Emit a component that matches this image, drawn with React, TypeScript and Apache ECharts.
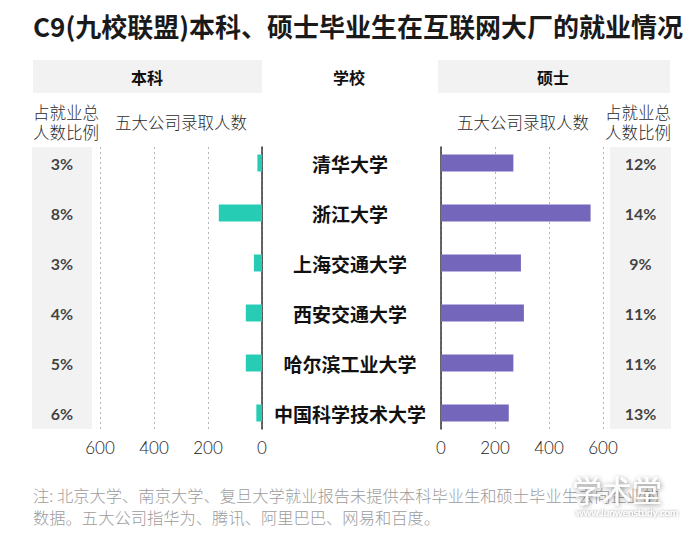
import React, { useEffect, useRef } from "react";
import * as echarts from "echarts";

const schools = ["清华大学", "浙江大学", "上海交通大学", "西安交通大学", "哈尔滨工业大学", "中国科学技术大学"];
const undergradHires = [17, 160, 30, 60, 60, 21];
const masterHires = [268, 554, 296, 307, 268, 251];
const undergradShare = ["3%", "8%", "3%", "4%", "5%", "6%"];
const masterShare = ["12%", "14%", "9%", "11%", "11%", "13%"];
const axisMin = 0;
const axisMax = 600;
const axisStep = 200;

const titleText = "C9(九校联盟)本科、硕士毕业生在互联网大厂的就业情况";
const noteLines = [
  "注: 北京大学、南京大学、复旦大学就业报告未提供本科毕业生和硕士毕业生去向企业的",
  "数据。五大公司指华为、腾讯、阿里巴巴、网易和百度。",
];

const CJK = "'Noto Sans CJK SC', 'Noto Sans', sans-serif";
const NUM = "Lato, 'Noto Sans', sans-serif";

export default function App() {
  const ref = useRef<HTMLDivElement>(null);

  useEffect(() => {
    if (!ref.current) return;
    const chart = echarts.init(ref.current, undefined, { renderer: "svg" });

    const barTop = 138;
    const barHeight = 300;
    const axTop = 147;
    const axHeight = 282;
    const rowMin = -0.32;
    const rowMax = 5.32;

    const valueAxisHidden = (inverse: boolean) => ({
      type: "value",
      min: axisMin,
      max: axisMax,
      interval: axisStep,
      inverse,
      show: false,
    });

    const valueAxisShown = (gridIndex: number, inverse: boolean) => ({
      type: "value",
      gridIndex,
      min: axisMin,
      max: axisMax,
      interval: axisStep,
      inverse,
      position: "bottom",
      axisLine: { show: false },
      axisTick: { show: false },
      axisLabel: { margin: 10, fontSize: 17, color: "#222", fontFamily: NUM, fontWeight: 300 },
      splitLine: { show: true, lineStyle: { type: [2, 3], color: "#b5b5b5", width: 1 } },
    });

    const pctSeries = (idx: number, labels: string[]) => ({
      type: "scatter",
      xAxisIndex: idx,
      yAxisIndex: idx,
      symbol: "circle",
      symbolSize: 1,
      itemStyle: { color: "rgba(0,0,0,0)" },
      data: labels.map((_, i) => [0.5, i]),
      label: {
        show: true,
        position: "inside",
        formatter: (p: any) => labels[p.dataIndex],
        fontSize: 16,
        fontWeight: "bold",
        color: "#111",
        fontFamily: NUM,
      },
      silent: true,
    });

    const sub = (text: string, x: number, y: number) => ({
      type: "text",
      x,
      y,
      style: {
        text,
        fontSize: 16.5,
        fill: "#2a2a2a",
        verticalAlign: "middle",
        fontFamily: CJK,
        fontWeight: 300,
      },
    });

    const head = (text: string, x: number) => ({
      type: "text",
      x,
      y: 77,
      style: { text, fontSize: 16, fontWeight: "bold", fill: "#111", align: "center", verticalAlign: "middle", fontFamily: CJK },
    });

    const option: any = {
      animation: false,
      backgroundColor: "#ffffff",
      grid: [
        { left: 100, width: 162, top: barTop, height: barHeight },
        { left: 100, width: 162, top: axTop, height: axHeight },
        { left: 441, width: 162, top: barTop, height: barHeight },
        { left: 441, width: 162, top: axTop, height: axHeight },
        { left: 32, width: 60, top: axTop, height: axHeight, show: true, backgroundColor: "#f2f2f2", borderWidth: 0 },
        { left: 610, width: 61, top: axTop, height: axHeight, show: true, backgroundColor: "#f2f2f2", borderWidth: 0 },
      ],
      xAxis: [
        { ...valueAxisHidden(true), gridIndex: 0 },
        valueAxisShown(1, true),
        { ...valueAxisHidden(false), gridIndex: 2 },
        valueAxisShown(3, false),
        { type: "value", gridIndex: 4, min: 0, max: 1, show: false },
        { type: "value", gridIndex: 5, min: 0, max: 1, show: false },
      ],
      yAxis: [
        {
          type: "category",
          gridIndex: 0,
          data: schools,
          inverse: true,
          position: "right",
          axisLine: { show: false },
          axisTick: { show: false },
          splitLine: { show: false },
          axisLabel: {
            margin: 88,
            align: "center",
            fontSize: 19,
            fontWeight: "bold",
            color: "#111",
            fontFamily: CJK,
          },
        },
        {
          type: "value",
          gridIndex: 1,
          min: 0,
          max: 1,
          position: "right",
          axisLine: { show: true, onZero: false, lineStyle: { color: "#333", width: 1.5 } },
          axisTick: { show: false },
          axisLabel: { show: false },
          splitLine: { show: false },
        },
        { type: "category", gridIndex: 2, data: schools, inverse: true, show: false },
        {
          type: "value",
          gridIndex: 3,
          min: 0,
          max: 1,
          position: "left",
          axisLine: { show: true, onZero: false, lineStyle: { color: "#333", width: 1.5 } },
          axisTick: { show: false },
          axisLabel: { show: false },
          splitLine: { show: false },
        },
        { type: "value", gridIndex: 4, min: rowMin, max: rowMax, inverse: true, show: false },
        { type: "value", gridIndex: 5, min: rowMin, max: rowMax, inverse: true, show: false },
      ],
      series: [
        {
          type: "bar",
          xAxisIndex: 0,
          yAxisIndex: 0,
          data: undergradHires,
          barWidth: 17,
          itemStyle: { color: "#26ccb3" },
          silent: true,
        },
        {
          type: "bar",
          xAxisIndex: 2,
          yAxisIndex: 2,
          data: masterHires,
          barWidth: 17,
          itemStyle: { color: "#7466bb" },
          silent: true,
        },
        pctSeries(4, undergradShare),
        pctSeries(5, masterShare),
      ],
      graphic: [
        {
          type: "text",
          x: 33,
          y: 25,
          style: { text: titleText, fontSize: 26, fontWeight: "bold", fill: "#1a1a1a", fontFamily: CJK, verticalAlign: "middle" },
        },
        { type: "rect", shape: { x: 33, y: 60, width: 229, height: 33 }, style: { fill: "#f2f2f2" } },
        { type: "rect", shape: { x: 438, y: 60, width: 232, height: 33 }, style: { fill: "#f2f2f2" } },
        head("本科", 147),
        head("学校", 349),
        head("硕士", 553),
        sub("占就业总", 33, 112),
        sub("人数比例", 33, 132),
        sub("五大公司录取人数", 115, 122),
        sub("五大公司录取人数", 457, 122),
        sub("占就业总", 605, 112),
        sub("人数比例", 605, 132),
        {
          type: "text",
          x: 33,
          y: 495,
          style: { text: noteLines[0], fontSize: 16.3, fill: "#9c9c9c", verticalAlign: "middle", fontFamily: CJK, fontWeight: 300 },
        },
        {
          type: "text",
          x: 33,
          y: 517,
          style: { text: noteLines[1], fontSize: 16.3, fill: "#9c9c9c", verticalAlign: "middle", fontFamily: CJK, fontWeight: 300 },
        },
        {
          type: "text",
          x: 617,
          y: 489,
          style: {
            text: "学术堂",
            fontSize: 30,
            fill: "rgba(255,255,255,0.95)",
            align: "center",
            verticalAlign: "middle",
            fontFamily: CJK,
            textShadowColor: "rgba(0,0,0,0.55)",
            textShadowBlur: 5,
            textShadowOffsetX: 1,
            textShadowOffsetY: 1,
          },
        },
        {
          type: "text",
          x: 627,
          y: 512,
          style: {
            text: "www.lunwenstudy.com",
            fontSize: 10,
            fill: "rgba(255,255,255,0.95)",
            align: "center",
            verticalAlign: "middle",
            fontFamily: NUM,
            textShadowColor: "rgba(0,0,0,0.6)",
            textShadowBlur: 3,
          },
        },
      ],
    };

    chart.setOption(option);
    return () => chart.dispose();
  }, []);

  return (
    <div
      ref={ref}
      style={{ position: "fixed", left: 0, top: 0, width: 700, height: 535, background: "#fff" }}
    />
  );
}
